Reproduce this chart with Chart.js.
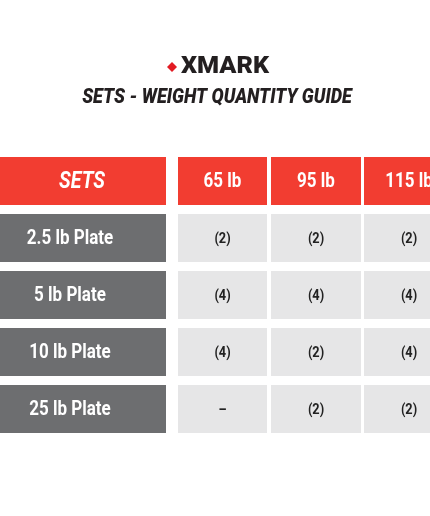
<!DOCTYPE html>
<html><head><meta charset="utf-8">
<script src="https://cdn.jsdelivr.net/npm/chart.js@4"></script>
<style>html,body{margin:0;padding:0;background:#fff}#w{width:430px;height:516px}</style>
</head><body><div id="w"><canvas id="c"></canvas></div>
<script>
const rows = ['SETS', '2.5 lb Plate', '5 lb Plate', '10 lb Plate', '25 lb Plate'];
const sets = ['65 lb', '95 lb', '115 lb'];
const qty65 = ['(2)', '(4)', '(4)', '–'];
const qty95 = ['(2)', '(4)', '(2)', '(2)'];
const qty115 = ['(2)', '(4)', '(4)', '(2)'];
const qtys = [qty65, qty95, qty115];

const colEdges = [[0,166],[178,267],[271,361],[364,460]];
const RED = '#f23d31', GRAY = '#6d6e70', LIGHT = '#e6e6e7';

const datasets = colEdges.map((e, ci) => ({
  data: rows.map(() => [e[0], e[1]]),
  backgroundColor: rows.map((r, ri) => ri === 0 ? RED : (ci === 0 ? GRAY : LIGHT)),
  grouped: false, borderWidth: 0, categoryPercentage: 1, barPercentage: 48/57
}));

function cond(ctx, t, x, y, sx) {
  ctx.save(); ctx.translate(x, y); ctx.scale(sx, 1); ctx.fillText(t, 0, 0); ctx.restore();
}

const textPlugin = {
  id: 'txt',
  afterDatasetsDraw(chart) {
    const ctx = chart.ctx;
    ctx.save();
    ctx.textAlign = 'center'; ctx.textBaseline = 'middle';
    ctx.fillStyle = '#231f20';
    ctx.font = '900 24px Roboto';
    cond(ctx, 'XMARK', 225, 67, 1.05);
    ctx.fillStyle = '#e21b23';
    ctx.beginPath(); ctx.moveTo(167,67); ctx.lineTo(172,62); ctx.lineTo(177,67); ctx.lineTo(172,72); ctx.closePath(); ctx.fill();
    ctx.fillStyle = '#231f20';
    ctx.font = 'italic 900 21px Roboto';
    cond(ctx, 'SETS - WEIGHT QUANTITY GUIDE', 217, 98, 0.86);
    chart.data.datasets.forEach((ds, ci) => {
      const meta = chart.getDatasetMeta(ci);
      meta.data.forEach((bar, ri) => {
        const cx = (bar.x + bar.base) / 2;
        let t, col = '#fff', sx = 0.85;
        if (ri === 0) { t = ci === 0 ? rows[0] : sets[ci-1]; ctx.font = (ci===0 ? 'italic bold 23px Roboto' : 'bold 20px Roboto'); }
        else if (ci === 0) { t = rows[ri]; ctx.font = 'bold 20px Roboto'; }
        else { t = qtys[ci-1][ri-1]; ctx.font = 'bold 15px Roboto'; col = '#222'; }
        ctx.fillStyle = col;
        const x = ci === 3 ? (bar.base + 454) / 2 : cx;
        cond(ctx, t, ri===0 && ci===0 ? 82 : (ci===0 ? 70 : x), bar.y + 1, sx);
      });
    });
    ctx.restore();
  }
};

new Chart(document.getElementById('c'), {
  type: 'bar',
  data: { labels: rows, datasets },
  options: {
    indexAxis: 'y', responsive: true, maintainAspectRatio: false, animation: false,
    layout: { padding: { top: 152.5, bottom: 78.5, left: 0, right: 0 } },
    plugins: { legend: { display: false }, tooltip: { enabled: false } },
    scales: {
      x: { type: 'linear', min: 0, max: 430, display: false },
      y: { type: 'category', display: false }
    }
  },
  plugins: [textPlugin]
});
</script></body></html>
